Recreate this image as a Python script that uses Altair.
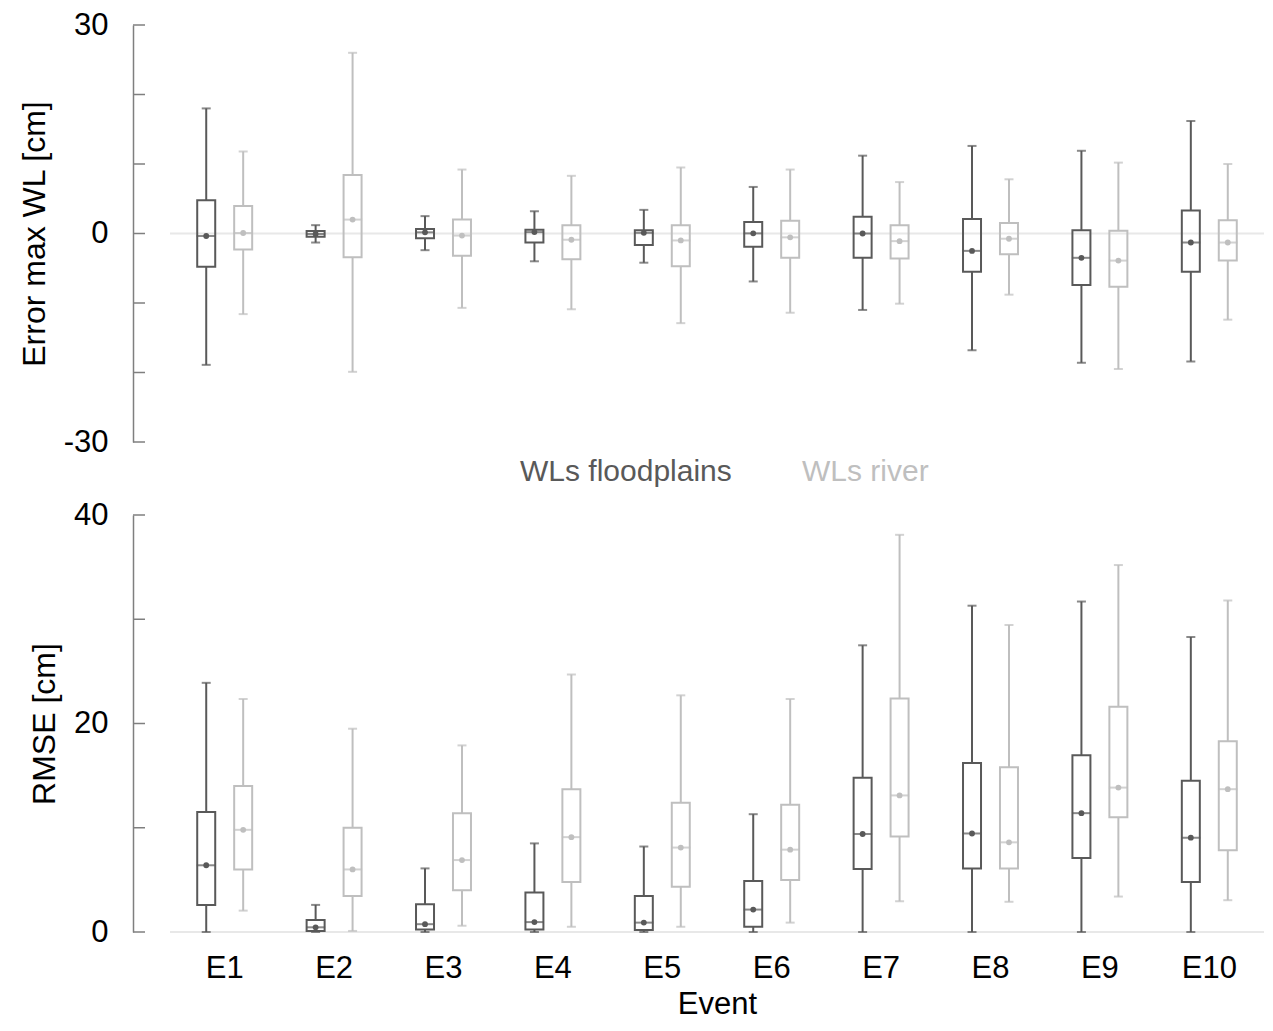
import altair as alt
import pandas as pd

events = ["E1", "E2", "E3", "E4", "E5", "E6", "E7", "E8", "E9", "E10"]
series_names = ["WLs floodplains", "WLs river"]
series_colors = ["#595959", "#bfbfbf"]

# Error max WL [cm] - floodplains
err_fp_min = [-18.9, -1.3, -2.4, -4.0, -4.2, -6.9, -11.0, -16.8, -18.6, -18.4]
err_fp_q1 = [-4.8, -0.45, -0.7, -1.3, -1.65, -1.9, -3.5, -5.5, -7.4, -5.5]
err_fp_med = [-0.36, -0.07, 0.17, 0.2, 0.1, 0.02, 0.0, -2.5, -3.5, -1.3]
err_fp_q3 = [4.8, 0.36, 0.65, 0.55, 0.46, 1.65, 2.4, 2.1, 0.46, 3.3]
err_fp_max = [18.0, 1.2, 2.5, 3.2, 3.4, 6.7, 11.2, 12.6, 11.9, 16.2]

# Error max WL [cm] - river
err_rv_min = [-11.6, -19.9, -10.7, -10.9, -12.9, -11.4, -10.1, -8.8, -19.5, -12.4]
err_rv_q1 = [-2.3, -3.4, -3.2, -3.7, -4.7, -3.5, -3.6, -3.0, -7.65, -3.9]
err_rv_med = [0.07, 2.0, -0.3, -0.9, -1.0, -0.55, -1.1, -0.75, -3.9, -1.3]
err_rv_q3 = [3.96, 8.4, 2.0, 1.2, 1.2, 1.85, 1.2, 1.5, 0.4, 1.9]
err_rv_max = [11.8, 26.0, 9.2, 8.3, 9.5, 9.2, 7.4, 7.8, 10.2, 10.0]

# RMSE [cm] - floodplains
rmse_fp_min = [0, 0, 0, 0, 0, 0, 0, 0, 0, 0]
rmse_fp_q1 = [2.6, 0.1, 0.25, 0.25, 0.2, 0.5, 6.05, 6.1, 7.1, 4.8]
rmse_fp_med = [6.4, 0.45, 0.75, 0.95, 0.9, 2.15, 9.4, 9.45, 11.4, 9.05]
rmse_fp_q3 = [11.5, 1.15, 2.65, 3.8, 3.45, 4.9, 14.8, 16.2, 16.95, 14.5]
rmse_fp_max = [23.9, 2.6, 6.1, 8.5, 8.2, 11.3, 27.5, 31.3, 31.7, 28.3]

# RMSE [cm] - river
rmse_rv_min = [2.05, 0.1, 0.6, 0.5, 0.5, 0.9, 2.95, 2.9, 3.4, 3.05]
rmse_rv_q1 = [6.0, 3.45, 4.0, 4.8, 4.35, 5.0, 9.15, 6.1, 11.0, 7.85]
rmse_rv_med = [9.8, 6.0, 6.9, 9.1, 8.1, 7.9, 13.1, 8.6, 13.85, 13.7]
rmse_rv_q3 = [14.0, 10.0, 11.4, 13.7, 12.4, 12.2, 22.4, 15.8, 21.6, 18.3]
rmse_rv_max = [22.35, 19.5, 17.9, 24.7, 22.7, 22.35, 38.1, 29.45, 35.2, 31.8]

err_ticks = [-30, -20, -10, 0, 10, 20, 30]
err_labels = [-30, 0, 30]
rmse_ticks = [0, 10, 20, 30, 40]
rmse_labels = [0, 20, 40]


def make_frame(stats):
    rows = []
    for name, (mn, q1, md, q3, mx) in zip(series_names, stats):
        for i, ev in enumerate(events):
            rows.append({"Event": ev, "Series": name, "lo": mn[i], "q1": q1[i],
                         "med": md[i], "q3": q3[i], "hi": mx[i]})
    return pd.DataFrame(rows)


err_df = make_frame([
    (err_fp_min, err_fp_q1, err_fp_med, err_fp_q3, err_fp_max),
    (err_rv_min, err_rv_q1, err_rv_med, err_rv_q3, err_rv_max),
])
rmse_df = make_frame([
    (rmse_fp_min, rmse_fp_q1, rmse_fp_med, rmse_fp_q3, rmse_fp_max),
    (rmse_rv_min, rmse_rv_q1, rmse_rv_med, rmse_rv_q3, rmse_rv_max),
])

W = 1094
H = 417
AXIS_GRAY = "#7f7f7f"

legend = alt.Legend(
    title=None, orient="none", legendX=320, legendY=432, direction="horizontal",
    symbolSize=0, symbolOpacity=0, symbolStrokeWidth=0, labelOffset=0,
    labelFontSize=30, labelLimit=0, columnPadding=40, padding=0,
    labelColor={"expr": "datum.label === 'WLs floodplains' ? '#595959' : '#bfbfbf'"},
)


def panel(df, title, domain, label_vals, tick_vals, show_x):
    yscale = alt.Scale(domain=domain, nice=False, zero=False)
    yaxis = alt.Axis(title=title, values=label_vals, offset=37, ticks=False, grid=False,
                     domainColor=AXIS_GRAY, domainWidth=1.5, labelPadding=25,
                     titlePadding=12, labelExpr="'' + datum.value")
    if show_x:
        xaxis = alt.Axis(title="Event", domain=False, ticks=False, labelAngle=0,
                         labelPadding=21, titlePadding=6, titleFontSize=31,
                         labelFontSize=31)
    else:
        xaxis = None
    xenc = alt.X("Event:N", sort=events, axis=xaxis,
                 scale=alt.Scale(paddingInner=0, paddingOuter=0))
    xoff = alt.XOffset("Series:N", sort=series_names,
                       scale=alt.Scale(paddingInner=0, paddingOuter=0.48))
    color = alt.Color("Series:N", sort=series_names, legend=legend,
                      scale=alt.Scale(domain=series_names, range=series_colors))

    def y(field):
        return alt.Y(f"{field}:Q", scale=yscale, axis=yaxis)

    base = alt.Chart(df)
    zero = alt.Chart(pd.DataFrame({"v": [0]})).mark_rule(
        color="#e8e8e8", strokeWidth=2).encode(y=y("v"))
    ticks = alt.Chart(pd.DataFrame({"t": tick_vals})).mark_rule(
        color=AXIS_GRAY, strokeWidth=1.5).encode(
        y=y("t"), x=alt.value(-37), x2=alt.value(-25))
    lower = base.mark_rule(strokeWidth=2).encode(
        x=xenc, xOffset=xoff, y=y("lo"), y2="q1:Q", color=color)
    upper = base.mark_rule(strokeWidth=2).encode(
        x=xenc, xOffset=xoff, y=y("q3"), y2="hi:Q", color=color)
    box = base.mark_bar(filled=False, strokeWidth=2, size=18).encode(
        x=xenc, xOffset=xoff, y=y("q1"), y2="q3:Q", color=color)
    cap_lo = base.mark_tick(size=9, thickness=2).encode(
        x=xenc, xOffset=xoff, y=y("lo"), color=color)
    cap_hi = base.mark_tick(size=9, thickness=2).encode(
        x=xenc, xOffset=xoff, y=y("hi"), color=color)
    med = base.mark_tick(size=19, thickness=2).encode(
        x=xenc, xOffset=xoff, y=y("med"), color=color)
    dot = base.mark_circle(size=34, opacity=1).encode(
        x=xenc, xOffset=xoff, y=y("med"), color=color)
    return alt.layer(zero, ticks, lower, upper, box, cap_lo, cap_hi, med, dot).properties(
        width=W, height=H)


top = panel(err_df, "Error max WL [cm]", [-30, 30], err_labels, err_ticks, False)
bottom = panel(rmse_df, "RMSE [cm]", [0, 40], rmse_labels, rmse_ticks, True)

chart = alt.vconcat(top, bottom, spacing=42).properties(
    padding={"left": 10, "top": 1, "right": 0, "bottom": 0}
).configure(font="Liberation Sans").configure_view(stroke=None).configure_axis(
    labelFontSize=31, titleFontSize=32, labelColor="black", titleColor="black",
    titleFontWeight="normal", labelFont="Liberation Sans", titleFont="Liberation Sans"
).configure_legend(labelFont="Liberation Sans")

chart.save("out.html", embed_options={"renderer": "svg", "actions": False})
